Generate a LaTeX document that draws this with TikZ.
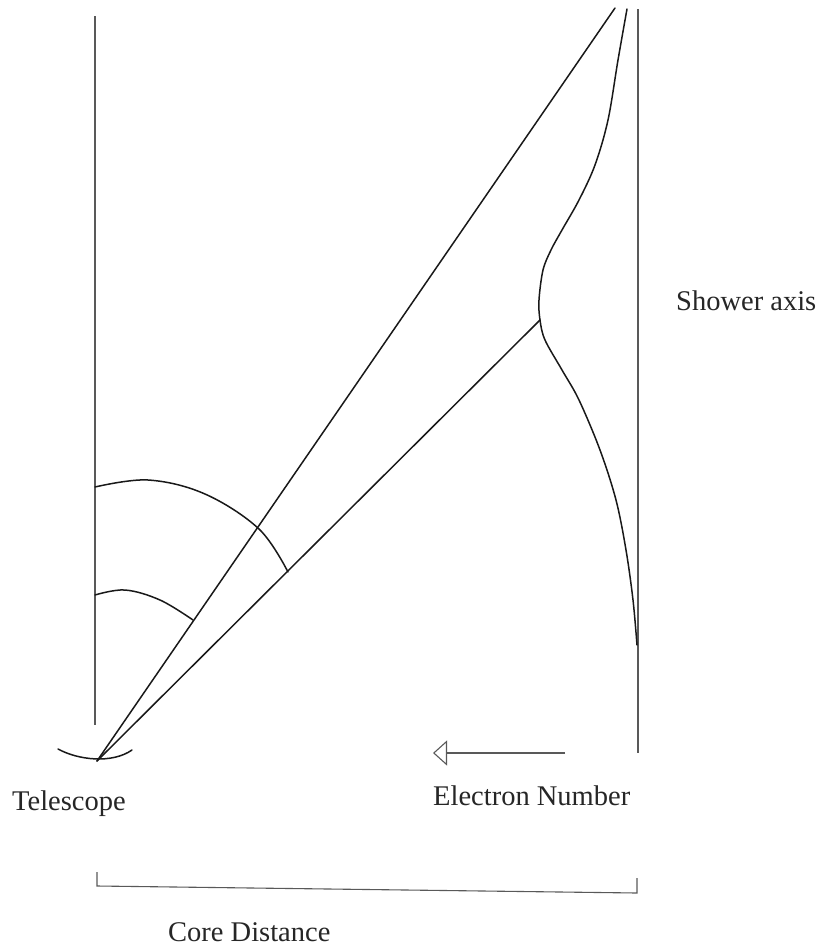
\documentclass[tikz,border=0pt]{standalone}
\usepackage{fontspec}
\setmainfont{Liberation Serif}
\usetikzlibrary{arrows.meta}
\begin{document}
\begin{tikzpicture}[x=1pt,y=-1pt,
  ray/.style={line width=1.5pt, black!90, line cap=round},
  thinline/.style={line width=1.1pt, black!65},
  lbl/.style={font=\fontsize{28.5}{34}\selectfont, text=black!85, inner sep=0pt, anchor=base west}]
\useasboundingbox (0,0) rectangle (817,948);
\coordinate (T) at (97,761);
\coordinate (A) at (615,8);
\coordinate (J) at (540,320);
\coordinate (L1) at (95,16);
\coordinate (L2) at (95,725);
\coordinate (R1) at (638,9);
\coordinate (R2) at (638,753);
\coordinate (M1) at (58,749);
\coordinate (M2) at (132,750);
\coordinate (E1) at (565,753);
\coordinate (E2) at (433,753);
% verticals
\draw[thinline] (L1) -- (L2);
\draw[thinline] (R1) -- (R2);
% rays
\draw[ray] (T) -- (A);
\draw[ray] (T) -- (J);
% mirror
\draw[ray] (M1) .. controls (78,760) and (112,764) .. (M2);
% shower profile
\draw[ray] plot[smooth, tension=0.55] coordinates {(627,9) (618,60) (608,120) (595,165) (579,200) (562,230) (551,250) (543,270) (539,300) (540,320) (545,340) (562,370) (579,400) (600,450) (616,500) (626,550) (633,600) (637,645)};
% angle arcs
\draw[ray] plot[smooth, tension=0.6] coordinates {(95,487) (148,480) (205,494) (259,529) (288,572)};
\draw[ray] plot[smooth, tension=0.6] coordinates {(95,595) (125,590) (160,600) (193,620)};
% electron number arrow
\draw[thinline, -{Triangle[open,length=14pt,width=25pt]}] (E1) -- (E2);
% core distance bracket
\coordinate (B1) at (97,872);
\coordinate (B2) at (97,886);
\coordinate (B3) at (637,893);
\coordinate (B4) at (637,878);
\draw[thinline] (B1) -- (B2) -- (B3) -- (B4);
% labels
\node[lbl] (tel) at (12,810) {Telescope};
\node[lbl] (el) at (433,805) {Electron Number};
\node[lbl] (sa) at (676,310) {Shower axis};
\node[lbl] (cd) at (168,941) {Core Distance};
\end{tikzpicture}
\end{document}
